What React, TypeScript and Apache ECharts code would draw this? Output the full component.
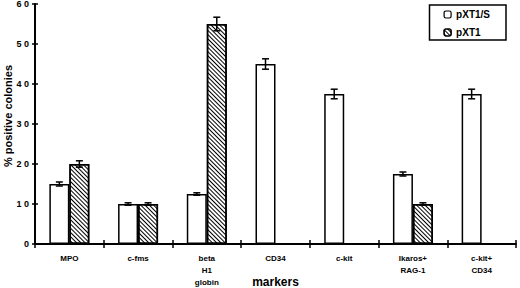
import React, { useEffect, useRef } from "react";
import * as echarts from "echarts";

const categories = ["MPO", "c-fms", "beta\nH1\nglobin", "CD34", "c-kit", "Ikaros+\nRAG-1", "c-kit+\nCD34"];
const pXT1S = [15, 10, 12.5, 45, 37.5, 17.5, 37.5];
const pXT1SErr = [0.5, 0.3, 0.3, 1.3, 1.2, 0.5, 1.2];
const pXT1: (number | null)[] = [20, 10, 55, null, null, 10, null];
const pXT1Err: (number | null)[] = [0.8, 0.3, 1.7, null, null, 0.3, null];
const yTicks = [0, 10, 20, 30, 40, 50, 60];

const FONT = "Liberation Sans";
const BAR_W = 20;

function errData(vals: (number | null)[], errs: (number | null)[]) {
  const out: any[] = [];
  vals.forEach((v, i) => {
    if (v != null && errs[i] != null) out.push([i, v, errs[i]]);
  });
  return out;
}

function errRender(offset: number) {
  return (params: any, api: any) => {
    const i = api.value(0);
    const v = api.value(1);
    const e = api.value(2);
    const top = api.coord([i, v + e]);
    const bot = api.coord([i, v - e]);
    const x = top[0] + offset;
    const cap = 3.5;
    const style = { stroke: "#000", lineWidth: 1.5 };
    return {
      type: "group",
      children: [
        { type: "line", shape: { x1: x, y1: top[1], x2: x, y2: bot[1] }, style },
        { type: "line", shape: { x1: x - cap, y1: top[1], x2: x + cap, y2: top[1] }, style },
        { type: "line", shape: { x1: x - cap, y1: bot[1], x2: x + cap, y2: bot[1] }, style },
      ],
    };
  };
}

export default function App() {
  const ref = useRef<HTMLDivElement>(null);
  useEffect(() => {
    const chart = echarts.init(ref.current!, undefined, { renderer: "svg" });
    const decal = {
      symbol: "rect",
      symbolSize: 1,
      color: "#000",
      backgroundColor: "#fff",
      dashArrayX: [1, 0],
      dashArrayY: [1, 1.1],
      rotation: Math.PI / 4,
    };
    chart.setOption({
      animation: false,
      backgroundColor: "#fff",
      textStyle: { fontFamily: FONT },
      grid: { left: 35, right: 4, top: 4, bottom: 44, containLabel: false, outerBoundsMode: "none" },
      legend: {
        orient: "vertical",
        right: 14,
        top: 5,
        itemWidth: 7,
        itemHeight: 7,
        itemGap: 7,
        padding: [4, 16, 2, 14],
        borderColor: "#000",
        borderWidth: 1.5,
        textStyle: { fontFamily: FONT, fontWeight: "bold", fontSize: 10, lineHeight: 11, color: "#000" },
        itemStyle: { borderColor: "#000", borderWidth: 1.2 },
        data: ["pXT1/S", "pXT1"],
      },
      xAxis: [
        {
          type: "category",
          data: categories,
          name: "markers",
          nameLocation: "middle",
          nameGap: 31,
          nameMoveOverlap: false,
          nameTextStyle: { fontFamily: FONT, fontWeight: "bold", fontSize: 12, lineHeight: 13, color: "#000" },
          axisLine: { lineStyle: { color: "#000", width: 2 } },
          axisTick: { show: true, length: 4, lineStyle: { color: "#000", width: 1.5 } },
          axisLabel: {
            interval: 0,
            fontFamily: FONT,
            fontWeight: "bold",
            fontSize: 8,
            lineHeight: 12,
            color: "#000",
            margin: 8,
          },
        },
        {
          type: "category",
          data: categories,
          position: "bottom",
          axisLine: { show: false },
          axisTick: { show: true, inside: true, length: 4, lineStyle: { color: "#000", width: 1.5 } },
          axisLabel: { show: false },
        },
      ],
      yAxis: [
        {
          type: "value",
          min: 0,
          max: 60,
          interval: 10,
          name: "% positive colonies",
          nameLocation: "middle",
          nameGap: 22,
          nameMoveOverlap: false,
          nameTextStyle: { fontFamily: FONT, fontWeight: "bold", fontSize: 11, color: "#000", padding: [0, 0, 0, 16] },
          splitLine: { show: false },
          axisLine: { show: true, lineStyle: { color: "#000", width: 2 } },
          axisTick: { show: true, length: 3, lineStyle: { color: "#000", width: 1.5 } },
          axisLabel: {
            fontFamily: FONT,
            fontWeight: "bold",
            fontSize: 9,
            color: "#000",
            margin: 6,
            formatter: (v: number) => (yTicks.includes(v) ? String(v).split("").join(" ") : ""),
          },
        },
        {
          type: "value",
          min: 0,
          max: 60,
          interval: 10,
          position: "left",
          splitLine: { show: false },
          axisLine: { show: false },
          axisTick: { show: true, inside: true, length: 3, lineStyle: { color: "#000", width: 1.5 } },
          axisLabel: { show: false },
        },
      ],
      series: [
        {
          name: "pXT1/S",
          type: "bar",
          data: pXT1S,
          barWidth: BAR_W,
          barGap: "0%",
          itemStyle: { color: "#fff", borderColor: "#000", borderWidth: 1.5 },
        },
        {
          name: "pXT1",
          type: "bar",
          data: pXT1.map((v) => (v == null ? "-" : v)),
          barWidth: BAR_W,
          barGap: "0%",
          itemStyle: { color: "#fff", borderColor: "#000", borderWidth: 1.5, decal },
        },
        {
          type: "custom",
          renderItem: errRender(-BAR_W / 2),
          data: errData(pXT1S, pXT1SErr),
          z: 5,
        },
        {
          type: "custom",
          renderItem: errRender(BAR_W / 2),
          data: errData(pXT1, pXT1Err),
          z: 5,
        },
      ],
    });
    return () => chart.dispose();
  }, []);
  return <div ref={ref} style={{ width: 520, height: 288, position: "absolute", left: 0, top: 0 }} />;
}
